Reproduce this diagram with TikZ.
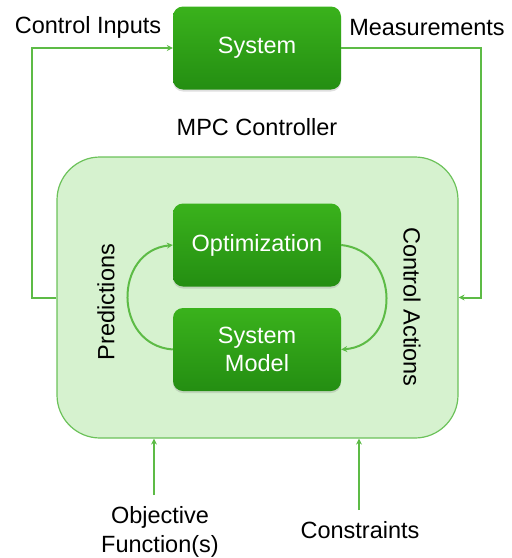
\documentclass[tikz,border=0pt]{standalone}
\usepackage{fontspec}
\setmainfont{Liberation Sans}
\usetikzlibrary{arrows.meta,shadows}
\definecolor{boxtop}{HTML}{3AB21C}
\definecolor{boxbot}{HTML}{248E12}
\definecolor{linegreen}{HTML}{5DBB46}
\definecolor{panelfill}{HTML}{D6F2CF}
\definecolor{panelline}{HTML}{6CC25A}
\tikzset{
  greenbox/.style={rectangle, rounded corners=10pt, top color=boxtop, bottom color=boxbot,
    draw=none, text=white, font=\fontsize{23.5}{28}\selectfont, align=center,
    minimum width=168pt, minimum height=83pt, inner sep=0pt,
    drop shadow={opacity=0.25, shadow xshift=0pt, shadow yshift=-2pt}},
  panel/.style={rectangle, rounded corners=43pt, fill=panelfill, draw=panelline, line width=1.2pt,
    minimum width=401pt, minimum height=281pt, inner sep=0pt},
  label/.style={font=\fontsize{23.5}{29}\selectfont, align=center, inner sep=0pt},
  conn/.style={draw=linegreen, line width=2pt, -{Stealth[length=6pt,width=6pt]}},
  plain/.style={draw=linegreen, line width=2pt}
}
\begin{document}
\begin{tikzpicture}[x=1pt,y=-1pt]
\useasboundingbox (0,0) rectangle (512,558);
\node[panel] (mpc) at (257.5,297.5) {};
\node[greenbox] (sys) at (257,48) {System};
\node[greenbox] (opt) at (257,245) {Optimization};
\node[greenbox] (model) at (257,349.5) {System\\Model};
\node[label] (ci) at (88,27) {Control Inputs};
\node[label] (meas) at (427,28) {Measurements};
\node[label] (mpct) at (257,127) {MPC Controller};
\node[label, rotate=90] (pred) at (106,302) {Predictions};
\node[label, rotate=-90] (ca) at (412,307) {Control Actions};
\node[label] (obj) at (160,531.5) {Objective\\Function(s)};
\node[label] (cons) at (360,530) {Constraints};
\coordinate (lc) at (32,297.5);
\coordinate (rc) at (481,297.5);
\coordinate (objs) at (154,495);
\coordinate (conss) at (359,510);
\draw[conn] (mpc.west) -- (lc) |- (sys.west);
\draw[conn] (sys.east) -| (rc) -- (mpc.east);
\draw[conn] (objs) -- (objs |- mpc.south);
\draw[conn] (conss) -- (conss |- mpc.south);
\draw[conn] (model.west) .. controls (113,345) and (113,251) .. (opt.west);
\draw[conn] (opt.east) .. controls (401,251) and (401,345) .. (model.east);
\end{tikzpicture}
\end{document}
